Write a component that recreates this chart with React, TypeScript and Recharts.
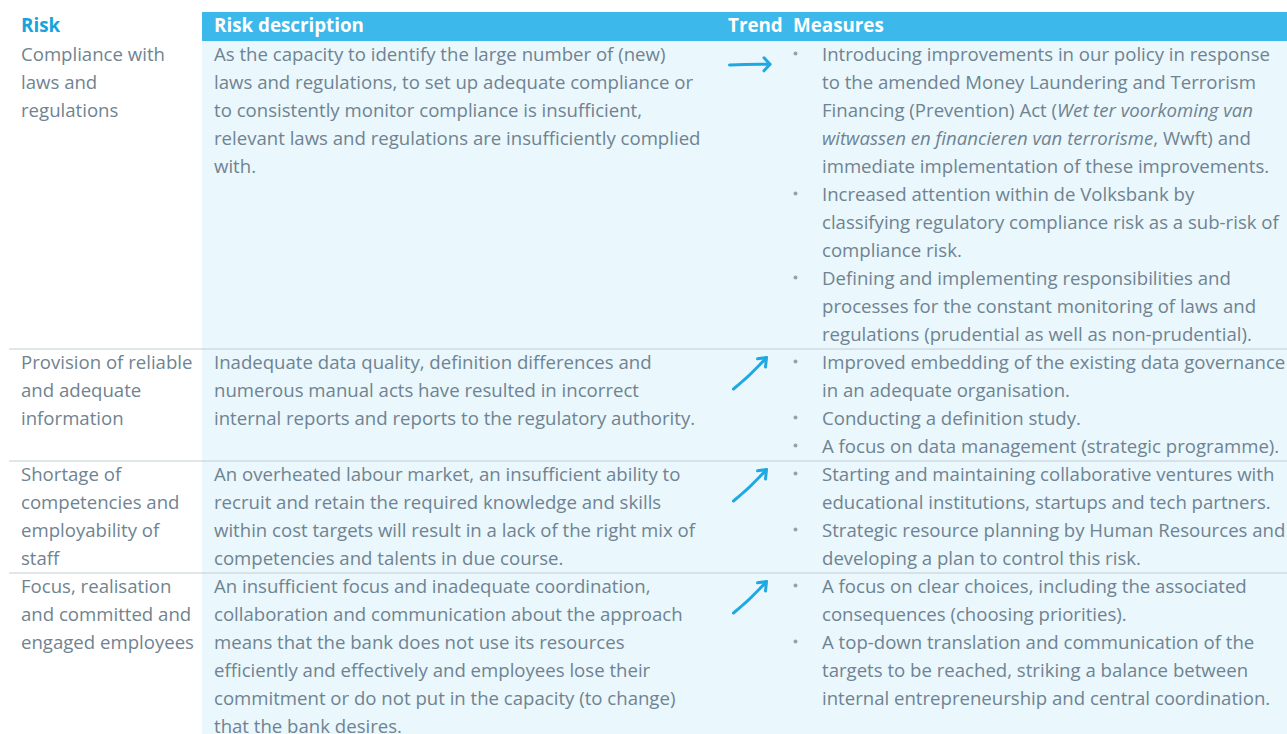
import React from "react";
import { ComposedChart, XAxis, YAxis, Customized } from "recharts";

type Seg = { t: string; i?: boolean };
type TLine = string | Seg[];

const headers = ["Risk", "Risk description", "Trend", "Measures"];

const riskNames: string[][] = [
  ["Compliance with", "laws and", "regulations"],
  ["Provision of reliable", "and adequate", "information"],
  ["Shortage of", "competencies and", "employability of", "staff"],
  ["Focus, realisation", "and committed and", "engaged employees"],
];

const descriptions: string[][] = [
  [
    "As the capacity to identify the large number of (new)",
    "laws and regulations, to set up adequate compliance or",
    "to consistently monitor compliance is insufficient,",
    "relevant laws and regulations are insufficiently complied",
    "with.",
  ],
  [
    "Inadequate data quality, definition differences and",
    "numerous manual acts have resulted in incorrect",
    "internal reports and reports to the regulatory authority.",
  ],
  [
    "An overheated labour market, an insufficient ability to",
    "recruit and retain the required knowledge and skills",
    "within cost targets will result in a lack of the right mix of",
    "competencies and talents in due course.",
  ],
  [
    "An insufficient focus and inadequate coordination,",
    "collaboration and communication about the approach",
    "means that the bank does not use its resources",
    "efficiently and effectively and employees lose their",
    "commitment or do not put in the capacity (to change)",
    "that the bank desires.",
  ],
];

const trends = ["stable", "up", "up", "up"];

const measures: TLine[][][] = [
  [
    [
      "Introducing improvements in our policy in response",
      "to the amended Money Laundering and Terrorism",
      [{ t: "Financing (Prevention) Act (" }, { t: "Wet ter voorkoming van", i: true }],
      [{ t: "witwassen en financieren van terrorisme", i: true }, { t: ", Wwft) and" }],
      "immediate implementation of these improvements.",
    ],
    [
      "Increased attention within de Volksbank by",
      "classifying regulatory compliance risk as a sub-risk of",
      "compliance risk.",
    ],
    [
      "Defining and implementing responsibilities and",
      "processes for the constant monitoring of laws and",
      "regulations (prudential as well as non-prudential).",
    ],
  ],
  [
    ["Improved embedding of the existing data governance", "in an adequate organisation."],
    ["Conducting a definition study."],
    ["A focus on data management (strategic programme)."],
  ],
  [
    ["Starting and maintaining collaborative ventures with", "educational institutions, startups and tech partners."],
    ["Strategic resource planning by Human Resources and", "developing a plan to control this risk."],
  ],
  [
    ["A focus on clear choices, including the associated", "consequences (choosing priorities)."],
    [
      "A top-down translation and communication of the",
      "targets to be reached, striking a balance between",
      "internal entrepreneurship and central coordination.",
    ],
  ],
];

// layout
const W = 1287;
const H = 734;
const HEADER_TOP = 12;
const HEADER_BOTTOM = 41;
const LINE_H = 28;
const BASE_OFF = 19.5;
const COL_X = [21, 214, 728, 793];
const BULLET_X = 795.5;
const MEASURE_X = 822;
const DESC_BG_X = 202;
const RULE_X = 9;

const FONT = "'Open Sans', 'Noto Sans', sans-serif";
const BODY_SIZE = 18.6;
const HEAD_SIZE = 18.8;
const TEXT_COLOR = "#6f8391";
const BULLET_COLOR = "#93a4ae";
const HEAD_BG = "#3cb8ea";
const HEAD_BLUE = "#17a3dd";
const LIGHT_BG = "#eaf7fd";
const RULE_COLOR = "#c3cdd3";
const ARROW_COLOR = "#1fa9e3";

const rowLineCounts = riskNames.map((r, i) =>
  Math.max(r.length, descriptions[i].length, measures[i].reduce((s, b) => s + b.length, 0))
);
const rowTops: number[] = [];
{
  let y = HEADER_BOTTOM;
  rowLineCounts.forEach((n) => {
    rowTops.push(y);
    y += n * LINE_H;
  });
}
const rowBottoms = rowTops.map((t, i) => t + rowLineCounts[i] * LINE_H);

const tableData = riskNames.map((r, i) => ({ name: r.join(" "), top: rowTops[i], bottom: rowBottoms[i] }));

function renderLine(line: TLine, x: number, y: number, key: string) {
  if (typeof line === "string") {
    return (
      <text key={key} x={x} y={y} fill={TEXT_COLOR} fontSize={BODY_SIZE} fontFamily={FONT}>
        {line}
      </text>
    );
  }
  return (
    <text key={key} x={x} y={y} fill={TEXT_COLOR} fontSize={BODY_SIZE} fontFamily={FONT}>
      {line.map((s, k) => (
        <tspan key={k} fontStyle={s.i ? "italic" : "normal"}>
          {s.t}
        </tspan>
      ))}
    </text>
  );
}

function Arrow({ kind, top }: { kind: string; top: number }) {
  const common = {
    fill: "none",
    stroke: ARROW_COLOR,
    strokeWidth: 3,
    strokeLinecap: "round" as const,
    strokeLinejoin: "round" as const,
  };
  if (kind === "stable") {
    const y = top + 23.3;
    return (
      <g>
        <path d={`M729.5,${y + 0.6} Q750,${y - 0.3} 770,${y}`} {...common} />
        <path d={`M764,${y - 6.5} L770,${y} L764,${y + 6.5}`} {...common} />
      </g>
    );
  }
  return (
    <g>
      <path d={`M733.5,${top + 40} Q751,${top + 26} 766.5,${top + 8.5}`} {...common} />
      <path d={`M757.5,${top + 9.8} L766.5,${top + 8.5} L765.5,${top + 18}`} {...common} />
    </g>
  );
}

function TableLayer() {
  const out: React.ReactNode[] = [];
  out.push(<rect key="bg" x={DESC_BG_X} y={HEADER_BOTTOM} width={W - DESC_BG_X} height={H - HEADER_BOTTOM} fill={LIGHT_BG} />);
  out.push(<rect key="hbg" x={DESC_BG_X} y={HEADER_TOP} width={W - DESC_BG_X} height={HEADER_BOTTOM - HEADER_TOP} fill={HEAD_BG} />);
  rowBottoms.slice(0, -1).forEach((y, i) =>
    out.push(<line key={`rule${i}`} x1={RULE_X} x2={W} y1={y} y2={y} stroke={RULE_COLOR} strokeWidth={1.2} />)
  );
  out.push(
    <text key="h0" x={COL_X[0]} y={32} fill={HEAD_BLUE} fontSize={HEAD_SIZE} fontWeight={700} fontFamily={FONT}>
      {headers[0]}
    </text>
  );
  for (let c = 1; c < headers.length; c++) {
    out.push(
      <text key={"h" + c} x={COL_X[c]} y={32} fill="#ffffff" fontSize={HEAD_SIZE} fontWeight={700} fontFamily={FONT}>
        {headers[c]}
      </text>
    );
  }
  tableData.forEach((row, i) => {
    const base = row.top + BASE_OFF;
    riskNames[i].forEach((l, j) => out.push(renderLine(l, COL_X[0], base + j * LINE_H, `r${i}-${j}`)));
    descriptions[i].forEach((l, j) => out.push(renderLine(l, COL_X[1], base + j * LINE_H, `d${i}-${j}`)));
    let ln = 0;
    measures[i].forEach((bullet, b) => {
      out.push(
        <circle key={`b${i}-${b}`} cx={BULLET_X} cy={base + ln * LINE_H - 7} r={2} fill={BULLET_COLOR} />
      );
      bullet.forEach((l, j) => {
        out.push(renderLine(l, MEASURE_X, base + ln * LINE_H, `m${i}-${b}-${j}`));
        ln++;
      });
    });
    out.push(<Arrow key={`a${i}`} kind={trends[i]} top={row.top} />);
  });
  return <g>{out}</g>;
}

export default function App() {
  return (
    <div style={{ position: "absolute", left: 0, top: 0, width: W, height: H, background: "#ffffff" }}>
      <ComposedChart width={W} height={H} data={tableData} margin={{ top: 0, right: 0, bottom: 0, left: 0 }}>
        <XAxis type="number" dataKey="top" domain={[0, W]} hide allowDataOverflow />
        <YAxis type="number" domain={[0, H]} reversed hide allowDataOverflow />
        <Customized component={TableLayer} />
      </ComposedChart>
    </div>
  );
}
